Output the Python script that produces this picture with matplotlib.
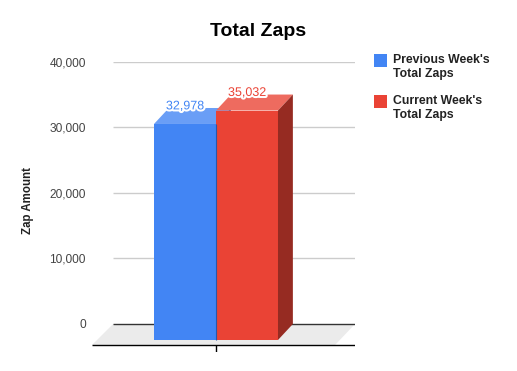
import matplotlib.pyplot as plt
import matplotlib.ticker as mticker
import matplotlib.patheffects as pe
from matplotlib.patches import Polygon, Rectangle

# data
series = ["Previous Week's\nTotal Zaps", "Current Week's\nTotal Zaps"]
values = [32978, 35032]
yticks = [0, 10000, 20000, 30000, 40000]

front = ['#4285f4', '#ea4335']
top = ['#6a9ef6', '#ee6b5f']
side = ['#2f62bd', '#962b22']

plt.rcParams['font.family'] = ['Liberation Sans', 'DejaVu Sans']

W, H = 517, 371
fig = plt.figure(figsize=(W/100, H/100), dpi=100)
# axes in pixels: x 92..355, y 62..352 (from top)
ax = fig.add_axes([92/W, (H-352)/H, 263/W, 290/H])
ax.set_xlim(-2.0, 2.242)
ax.set_ylim(-4275, 40000)

w = 1.0
dx = 0.24      # depth offset, x units
dy = 2440      # depth offset, y units
xs = [-0.5, 0.5]

# floor + back wall grid
fl = 3206
ax.add_patch(Polygon([(-1.66, 0), (2.242, 0), (1.92, -fl), (-2.0, -fl)],
                     closed=True, color='#ebebeb', lw=0, zorder=0))
ax.hlines(yticks[1:], -1.66, 2.242, color='#cccccc', lw=1, zorder=1)
ax.hlines(0, -1.66, 2.242, color='#333333', lw=1, zorder=1)
ax.hlines(-fl, -2.0, 2.242, color='black', lw=1, zorder=1)
ax.vlines(0, -4275, -fl, color='black', lw=1, zorder=1)

# 3d bars
for i, (x, v) in enumerate(zip(xs, values)):
    z = 2 + i
    ax.bar(x, v, width=w, bottom=-dy, color=front[i], lw=0, zorder=z)
    l, r = x - w/2, x + w/2
    ax.add_patch(Polygon([(l, v-dy), (r, v-dy), (r+dx, v), (l+dx, v)],
                         closed=True, color=top[i], lw=0, zorder=z))
    ax.add_patch(Polygon([(r, -dy), (r+dx, 0), (r+dx, v), (r, v-dy)],
                         closed=True, color=side[i], lw=0, zorder=z))
    ax.annotate(f'{v:,}', (x, v), xytext=(0, -1), textcoords='offset points',
                ha='center', va='baseline', color=front[i], fontsize=9, zorder=10,
                path_effects=[pe.withStroke(linewidth=3, foreground='white')])
ax.vlines(0, -dy, values[0] - dy, color='#2a56a8', lw=0.8, zorder=4)

for s in ax.spines.values():
    s.set_visible(False)
ax.set_xticks([])
ax.set_yticks(yticks)
ax.yaxis.set_major_formatter(mticker.StrMethodFormatter('{x:,.0f}'))
ax.tick_params(axis='y', length=0, pad=4.5, labelsize=8.6, labelcolor='#444444')
ax.set_ylabel('Zap Amount', fontsize=8.3, fontweight='bold', color='#222222')
ax.yaxis.set_label_coords(-0.222, 0.524)

fig.text(258/W, 1 - 31/H, 'Total Zaps', ha='center', va='center',
         fontsize=14, fontweight='bold', color='black')

# legend
for i, lab in enumerate(series):
    y0 = 54 + i * 41
    fig.patches.append(Rectangle((374/W, 1 - (y0 + 13)/H), 13/W, 13/H,
                                 transform=fig.transFigure, color=front[i], lw=0))
    fig.text(393/W, 1 - (y0 + 0.2)/H, lab, ha='left', va='top', fontsize=8.8,
             fontweight='bold', color='#222222', linespacing=1.22)

fig.savefig('out.png', dpi=100)
